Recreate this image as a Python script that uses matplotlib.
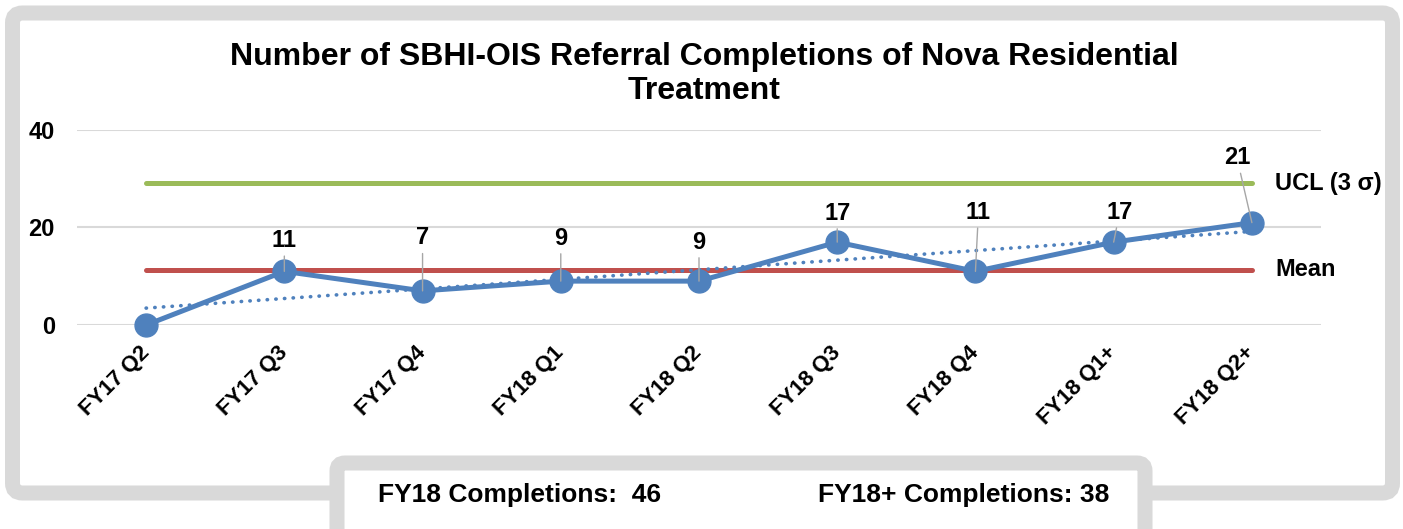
"""Control chart: SBHI-OIS referral completions of Nova Residential Treatment."""

import numpy as np
import matplotlib

matplotlib.use("Agg")
import matplotlib.pyplot as plt  # noqa: E402
from matplotlib.patches import FancyBboxPatch  # noqa: E402

# ---- data ----
quarters = ["FY17 Q2", "FY17 Q3", "FY17 Q4", "FY18 Q1", "FY18 Q2",
            "FY18 Q3", "FY18 Q4", "FY18 Q1+", "FY18 Q2+"]
completions = [0, 11, 7, 9, 9, 17, 11, 17, 21]
ucl_value = 29.1
y_ticks = [0, 20, 40]
fy18_total = 46
fy18_plus_total = 38

# label offsets in pixels (dx, dy) from each point; None means no label
label_offsets = [None, (0, 31), (0, 53), (0, 43), (0, 39),
                 (0, 29), (3, 59), (6, 30), (-15, 65)]

W, H, DPI = 1403, 529, 100
BLUE = "#4f81bd"
RED = "#c0504d"
GREEN = "#9bbb59"
FRAME = "#d9d9d9"
GRID = "#d9d9d9"
FONT = "Liberation Sans"
LABEL_SIZE = 17

plt.rcParams["font.family"] = [FONT, "DejaVu Sans"]
plt.rcParams["font.weight"] = "bold"

fig = plt.figure(figsize=(W / DPI, H / DPI), dpi=DPI)

# background layer in pixel coordinates for the grey frames
bg = fig.add_axes([0, 0, 1, 1], zorder=0)
bg.set_xlim(0, W)
bg.set_ylim(H, 0)
bg.axis("off")
frame_lw = 15 * 72 / DPI
bg.add_patch(FancyBboxPatch((12.5, 13), 1380, 480,
                            boxstyle="round,pad=0,rounding_size=10",
                            fc="white", ec=FRAME, lw=frame_lw))
bg.add_patch(FancyBboxPatch((337, 463), 808, 80,
                            boxstyle="round,pad=0,rounding_size=8",
                            fc="white", ec=FRAME, lw=frame_lw))
bg.text(378, 495, f"FY18 Completions:  {fy18_total}", fontsize=19,
        fontweight="bold", ha="left", va="center")
bg.text(818, 495, f"FY18+ Completions: {fy18_plus_total}", fontsize=19,
        fontweight="bold", ha="left", va="center")

# main chart
left, right, top, bottom = 77, 1321, 130, 325
ax = fig.add_axes([left / W, 1 - bottom / H, (right - left) / W,
                   (bottom - top) / H], zorder=1)
ax.set_facecolor("none")

x = np.arange(len(quarters))
mean_value = float(np.mean(completions))

ax.plot([x[0], x[-1]], [ucl_value] * 2, color=GREEN, lw=3.6,
        solid_capstyle="round", zorder=2)
ax.plot([x[0], x[-1]], [mean_value] * 2, color=RED, lw=3.6,
        solid_capstyle="round", zorder=2)

# linear trend line through the series
slope, intercept = np.polyfit(x, completions, 1)
ax.plot(x, slope * x + intercept, color=BLUE, lw=2.6,
        linestyle=(0, (0.1, 2.3)), dash_capstyle="round", zorder=3)

ax.plot(x, completions, color=BLUE, lw=3.6, marker="o", markersize=16.5,
        clip_on=False, zorder=4)

for xi, yi, off in zip(x, completions, label_offsets):
    if off is None:
        continue
    ax.annotate(str(yi), xy=(xi, yi), xytext=off, textcoords="offset pixels",
                ha="center", va="center", fontsize=LABEL_SIZE,
                fontweight="bold",
                arrowprops=dict(arrowstyle="-", color="#a6a6a6", lw=1,
                                shrinkA=1, shrinkB=0),
                zorder=5)

ax.annotate("UCL (3 σ)", xy=(x[-1], ucl_value), xytext=(23, 0),
            textcoords="offset pixels", ha="left", va="center",
            fontsize=LABEL_SIZE, fontweight="bold")
ax.annotate("Mean", xy=(x[-1], mean_value), xytext=(23, 0),
            textcoords="offset pixels", ha="left", va="center",
            fontsize=LABEL_SIZE, fontweight="bold")

ax.set_xlim(-0.5, len(quarters) - 0.5)
ax.set_ylim(0, 40)
ax.set_yticks(y_ticks)
ax.set_yticklabels([str(t) for t in y_ticks], fontsize=LABEL_SIZE,
                   fontweight="bold")
ax.set_xticks(x)
ax.set_xticklabels(quarters, fontsize=16, fontweight="bold", rotation=45,
                   ha="right", va="center", rotation_mode="anchor")
ax.tick_params(axis="y", length=0, pad=16)
ax.tick_params(axis="x", length=0, pad=18)
ax.grid(axis="y", color=GRID, lw=1.5)
ax.set_axisbelow(True)
for spine in ax.spines.values():
    spine.set_visible(False)

fig.text(704 / W, 1 - 57 / H,
         "Number of SBHI-OIS Referral Completions of Nova Residential",
         ha="center", va="center", fontsize=23, fontweight="bold")
fig.text(704 / W, 1 - 91 / H, "Treatment",
         ha="center", va="center", fontsize=23, fontweight="bold")

fig.savefig("out.png", dpi=DPI)
plt.close(fig)
